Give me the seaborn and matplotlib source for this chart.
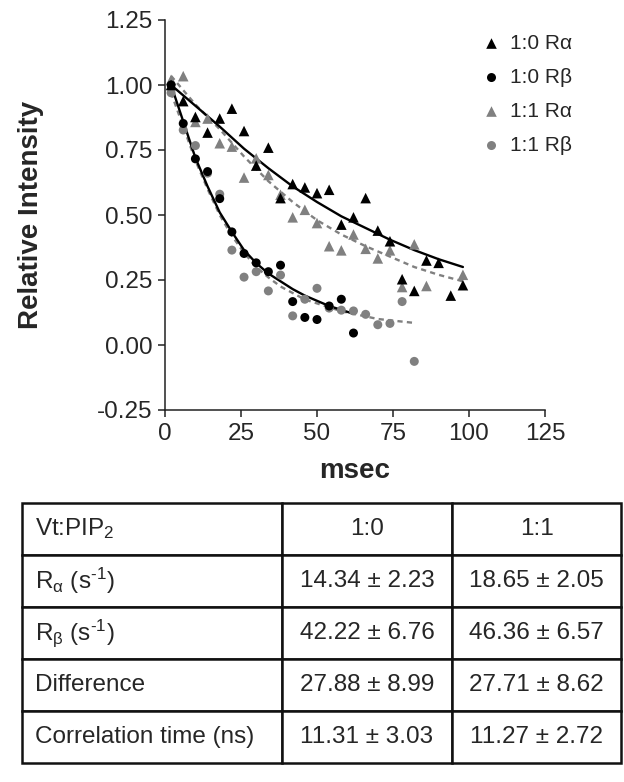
import matplotlib
matplotlib.use("Agg")
import matplotlib.pyplot as plt
import seaborn as sns

# ---------------- data ----------------
# 1:0 R-alpha (black triangles)
t_ra10 = [2, 6, 10, 14, 18, 22, 26, 30, 34, 38, 42, 46, 50, 54, 58, 62, 66, 70, 74, 78, 82, 86, 90, 94, 98]
v_ra10 = [1.00, 0.938, 0.877, 0.817, 0.871, 0.909, 0.823, 0.690, 0.759, 0.565, 0.619, 0.606, 0.584,
          0.597, 0.463, 0.491, 0.565, 0.440, 0.399, 0.253, 0.208, 0.325, 0.316, 0.19, 0.23]
# 1:0 R-beta (black circles)
t_rb10 = [2, 6, 10, 14, 18, 22, 26, 30, 34, 38, 42, 46, 50, 54, 58, 62]
v_rb10 = [1.00, 0.852, 0.716, 0.667, 0.563, 0.435, 0.352, 0.316, 0.282, 0.307, 0.167, 0.106, 0.098,
          0.150, 0.176, 0.046]
# 1:1 R-alpha (gray triangles)
t_ra11 = [2, 6, 10, 14, 18, 22, 26, 30, 34, 38, 42, 46, 50, 54, 58, 62, 66, 70, 74, 78, 82, 86, 98]
v_ra11 = [1.02, 1.034, 0.858, 0.871, 0.776, 0.763, 0.644, 0.718, 0.654, 0.578, 0.491, 0.520, 0.469,
          0.380, 0.364, 0.425, 0.370, 0.333, 0.364, 0.223, 0.387, 0.227, 0.27]
# 1:1 R-beta (gray circles)
t_rb11 = [2, 6, 10, 14, 18, 22, 26, 30, 34, 38, 42, 46, 50, 54, 58, 62, 66, 70, 74, 78, 82]
v_rb11 = [0.97, 0.827, 0.767, 0.661, 0.580, 0.365, 0.261, 0.282, 0.208, 0.269, 0.112, 0.176, 0.218,
          0.142, 0.134, 0.131, 0.118, 0.078, 0.083, 0.167, -0.063]

# fitted curves
fit_ra10_t = [2, 10, 18, 26, 34, 42, 50, 58, 66, 74, 82, 90, 98]
fit_ra10_v = [1.00, 0.92, 0.84, 0.755, 0.68, 0.61, 0.55, 0.495, 0.45, 0.405, 0.365, 0.33, 0.30]
fit_ra11_t = [2, 10, 18, 26, 34, 42, 50, 58, 66, 74, 82, 90, 98]
fit_ra11_v = [1.035, 0.925, 0.83, 0.725, 0.63, 0.55, 0.48, 0.425, 0.38, 0.34, 0.30, 0.27, 0.245]
fit_rb10_t = [2, 6, 10, 14, 18, 22, 26, 30, 34, 38, 42, 46, 50, 54, 58, 62]
fit_rb10_v = [1.00, 0.86, 0.72, 0.61, 0.51, 0.435, 0.365, 0.315, 0.275, 0.245, 0.215, 0.19, 0.17,
              0.15, 0.135, 0.12]
fit_rb11_t = [2, 6, 10, 14, 18, 22, 26, 30, 34, 38, 42, 46, 50, 54, 58, 62, 66, 70, 74, 78, 82]
fit_rb11_v = [0.97, 0.84, 0.71, 0.60, 0.50, 0.42, 0.355, 0.30, 0.26, 0.225, 0.20, 0.175, 0.16,
              0.145, 0.13, 0.12, 0.11, 0.10, 0.095, 0.09, 0.085]

series_labels = ["1:0 R\u03b1", "1:0 R\u03b2", "1:1 R\u03b1", "1:1 R\u03b2"]

x_ticks = [0, 25, 50, 75, 100, 125]
y_ticks = [-0.25, 0.00, 0.25, 0.50, 0.75, 1.00, 1.25]
y_ticklabels = ["-0.25", "0.00", "0.25", "0.50", "0.75", "1.00", "1.25"]

# table
table_header = ["Vt:PIP$_{\\mathrm{2}}$", "1:0", "1:1"]
table_rows = ["R$_{\\mathrm{\u03b1}}$ (s$^{\\mathrm{\u2010}1}$)", "R$_{\\mathrm{\u03b2}}$ (s$^{\\mathrm{\u2010}1}$)",
              "Difference", "Correlation time (ns)"]
table_10 = ["14.34 \u00b1 2.23", "42.22 \u00b1 6.76", "27.88 \u00b1 8.99", "11.31 \u00b1 3.03"]
table_11 = ["18.65 \u00b1 2.05", "46.36 \u00b1 6.57", "27.71 \u00b1 8.62", "11.27 \u00b1 2.72"]

# ---------------- style ----------------
sns.set_style("ticks")
plt.rcParams["font.family"] = ["Liberation Sans", "DejaVu Sans"]
plt.rcParams["mathtext.fontset"] = "custom"
plt.rcParams["mathtext.rm"] = "Liberation Sans"
plt.rcParams["mathtext.it"] = "Liberation Sans:italic"
plt.rcParams["mathtext.bf"] = "Liberation Sans:bold"

W, H = 624, 782
fig = plt.figure(figsize=(W / 100, H / 100), dpi=100)
ax = fig.add_axes([165 / W, 1 - 410 / H, (545 - 165) / W, (410 - 20) / H])

GRAY = "#808080"
BLACK = "#000000"

# fit lines
sns.lineplot(x=fit_ra11_t, y=fit_ra11_v, ax=ax, color=GRAY, lw=1.7, linestyle=(0, (2.2, 1.8)), legend=False)
sns.lineplot(x=fit_rb11_t, y=fit_rb11_v, ax=ax, color=GRAY, lw=1.7, linestyle=(0, (2.2, 1.8)), legend=False)
sns.lineplot(x=fit_ra10_t, y=fit_ra10_v, ax=ax, color=BLACK, lw=1.7, legend=False)
sns.lineplot(x=fit_rb10_t, y=fit_rb10_v, ax=ax, color=BLACK, lw=1.7, legend=False)

# points
sns.scatterplot(x=t_ra11, y=v_ra11, ax=ax, marker="^", color=GRAY, s=58, edgecolor="none",
                label=series_labels[2], zorder=3)
sns.scatterplot(x=t_rb11, y=v_rb11, ax=ax, marker="o", color=GRAY, s=42, edgecolor="none",
                label=series_labels[3], zorder=3)
sns.scatterplot(x=t_ra10, y=v_ra10, ax=ax, marker="^", color=BLACK, s=58, edgecolor="none",
                label=series_labels[0], zorder=4)
sns.scatterplot(x=t_rb10, y=v_rb10, ax=ax, marker="o", color=BLACK, s=42, edgecolor="none",
                label=series_labels[1], zorder=4)

ax.set_xlim(0, 125)
ax.set_ylim(-0.25, 1.25)
ax.set_xticks(x_ticks)
ax.set_xticklabels([str(v) for v in x_ticks])
ax.set_yticks(y_ticks)
ax.set_yticklabels(y_ticklabels)
for sp in ["top", "right"]:
    ax.spines[sp].set_visible(False)
for sp in ["left", "bottom"]:
    ax.spines[sp].set_linewidth(1.1)
    ax.spines[sp].set_color("#222222")
ax.tick_params(direction="out", length=5, width=1.1, color="#222222", labelsize=17.5, pad=4)
ax.set_xlabel("msec", fontsize=20, fontweight="bold", labelpad=10)
ax.set_ylabel("Relative Intensity", fontsize=20, fontweight="bold", labelpad=38)

handles, labels = ax.get_legend_handles_labels()
order = [labels.index(l) for l in series_labels]
ax.legend([handles[i] for i in order], [labels[i] for i in order],
          loc="upper left", bbox_to_anchor=(479 / W, 1 - 34 / H), bbox_transform=fig.transFigure,
          frameon=False, fontsize=15, handletextpad=0.3, labelspacing=0.72, handlelength=1.2,
          borderpad=0, borderaxespad=0)

# ---------------- table ----------------
ax_t = fig.add_axes([22 / W, 1 - 763 / H, (621 - 22) / W, (763 - 503) / H])
ax_t.axis("off")
cell_text = [table_header] + [[r, a, b] for r, a, b in zip(table_rows, table_10, table_11)]
tw = 621 - 22
tbl = ax_t.table(cellText=cell_text, colWidths=[260 / tw, 170 / tw, 169 / tw],
                 cellLoc="center", bbox=[0, 0, 1, 1])
tbl.auto_set_font_size(False)
tbl.set_fontsize(17.5)
for (r, c), cell in tbl.get_celld().items():
    cell.set_linewidth(1.8)
    cell.set_edgecolor("#111111")
    if c == 0:
        cell._loc = "left"
        cell.PAD = 0.05
        cell.get_text().set_horizontalalignment("left")

fig.savefig("out.png", dpi=100)
